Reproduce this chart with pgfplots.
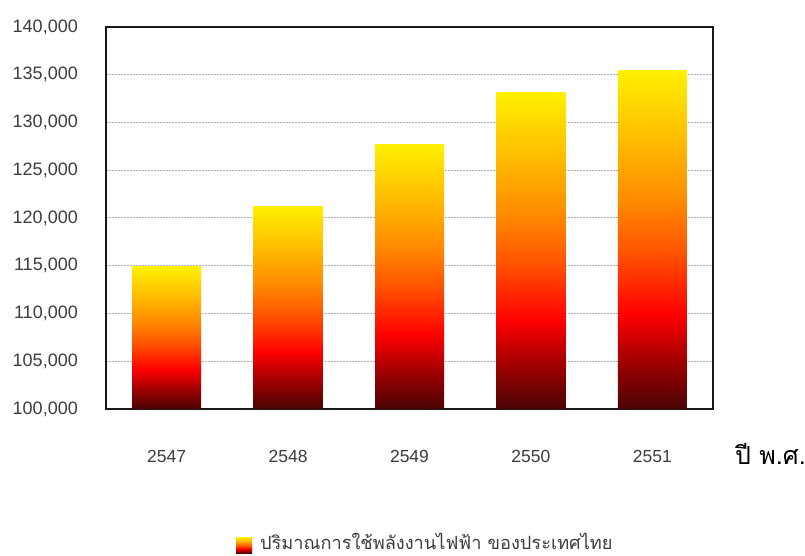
\documentclass[border=0pt]{standalone}
\usepackage{pgfplots}
\pgfplotsset{compat=1.18}
\usepackage{fontspec}
\setmainfont{Liberation Sans}
\newfontfamily\thaifont[Script=Thai]{Loma}

% bar gradient: dark maroon at the base, red, orange, yellow at the top
\definecolor{barBot}{HTML}{4A0404}
\definecolor{barDeep}{HTML}{A00000}
\definecolor{barRed}{HTML}{FF0000}
\definecolor{barOrRed}{HTML}{FF5200}
\definecolor{barOrange}{HTML}{FF8C00}
\definecolor{barAmber}{HTML}{FFB800}
\definecolor{barTop}{HTML}{FFF000}
\definecolor{tickText}{HTML}{3C3C3C}
\definecolor{gridGray}{HTML}{B0B0B0}

\pgfdeclareverticalshading{barshade}{100bp}{%
  color(0bp)=(barBot); color(25bp)=(barBot); color(32bp)=(barDeep);
  color(39bp)=(barRed); color(48bp)=(barOrRed); color(56bp)=(barOrange);
  color(64bp)=(barAmber); color(75bp)=(barTop); color(100bp)=(barTop)}

% grid behind the bars, frame in front of them
\pgfplotsset{
  layers/gridbehind/.define layer set={
    axis background,axis grid,main,axis ticks,axis lines,
    axis tick labels,axis descriptions,axis foreground}{},
  onebar/.style={ybar, bar width=69pt, bar shift=0pt, draw=none,
    shading=barshade},
}

\begin{document}
\begin{tikzpicture}
\begin{axis}[
  set layers=gridbehind,
  at={(0pt,0pt)}, anchor=south west,
  scale only axis, width=607pt, height=382pt,
  xmin=-0.5, xmax=4.5,
  ymin=0, ymax=40000,
  y filter/.expression={y-100000},
  scaled y ticks=false,
  xtick={0,1,2,3,4},
  xticklabels={2547,2548,2549,2550,2551},
  ytick={0,5000,10000,15000,20000,25000,30000,35000,40000},
  yticklabels={{100,000},{105,000},{110,000},{115,000},{120,000},
               {125,000},{130,000},{135,000},{140,000}},
  major tick length=0pt,
  xticklabel style={anchor=center, yshift=-47pt, text=tickText,
    font=\fontsize{17.5}{20}\selectfont},
  yticklabel style={anchor=east, inner sep=0pt, xshift=-28pt,
    text=tickText, font=\fontsize{18}{20}\selectfont},
  ymajorgrids,
  major grid style={gridGray, line width=1pt, dash pattern=on 2pt off 1pt},
  axis line style={line width=2.6pt, black!90, line join=miter},
  xlabel={\thaifont ปี พ.ศ.},
  every axis x label/.style={at={(rel axis cs:1,0)}, anchor=west,
    xshift=22pt, yshift=-45pt, inner sep=0pt,
    font=\fontsize{25}{28}\selectfont},
  legend style={at={(axis description cs:0.214,-0.349)}, anchor=west,
    draw=none, fill=none, inner sep=0pt,
    font=\fontsize{18.2}{20}\selectfont\thaifont, text=tickText},
  legend image code/.code={%
    \fill[shading=barshade] (0pt,-11pt) rectangle (16pt,5pt);
    \path (0pt,0pt) -- (22pt,0pt);},
]
\addplot [onebar] coordinates {(0,114900)};
\addlegendentry{ปริมาณการใช้พลังงานไฟฟ้า ของประเทศไทย}
\addplot [onebar, forget plot] coordinates {(1,121200)};
\addplot [onebar, forget plot] coordinates {(2,127700)};
\addplot [onebar, forget plot] coordinates {(3,133100)};
\addplot [onebar, forget plot] coordinates {(4,135400)};
\end{axis}
% page frame: same extent around the axis box as the printed chart
\pgfresetboundingbox
\useasboundingbox (-106pt,-147pt) rectangle (699pt,409pt);
\end{tikzpicture}
\end{document}
